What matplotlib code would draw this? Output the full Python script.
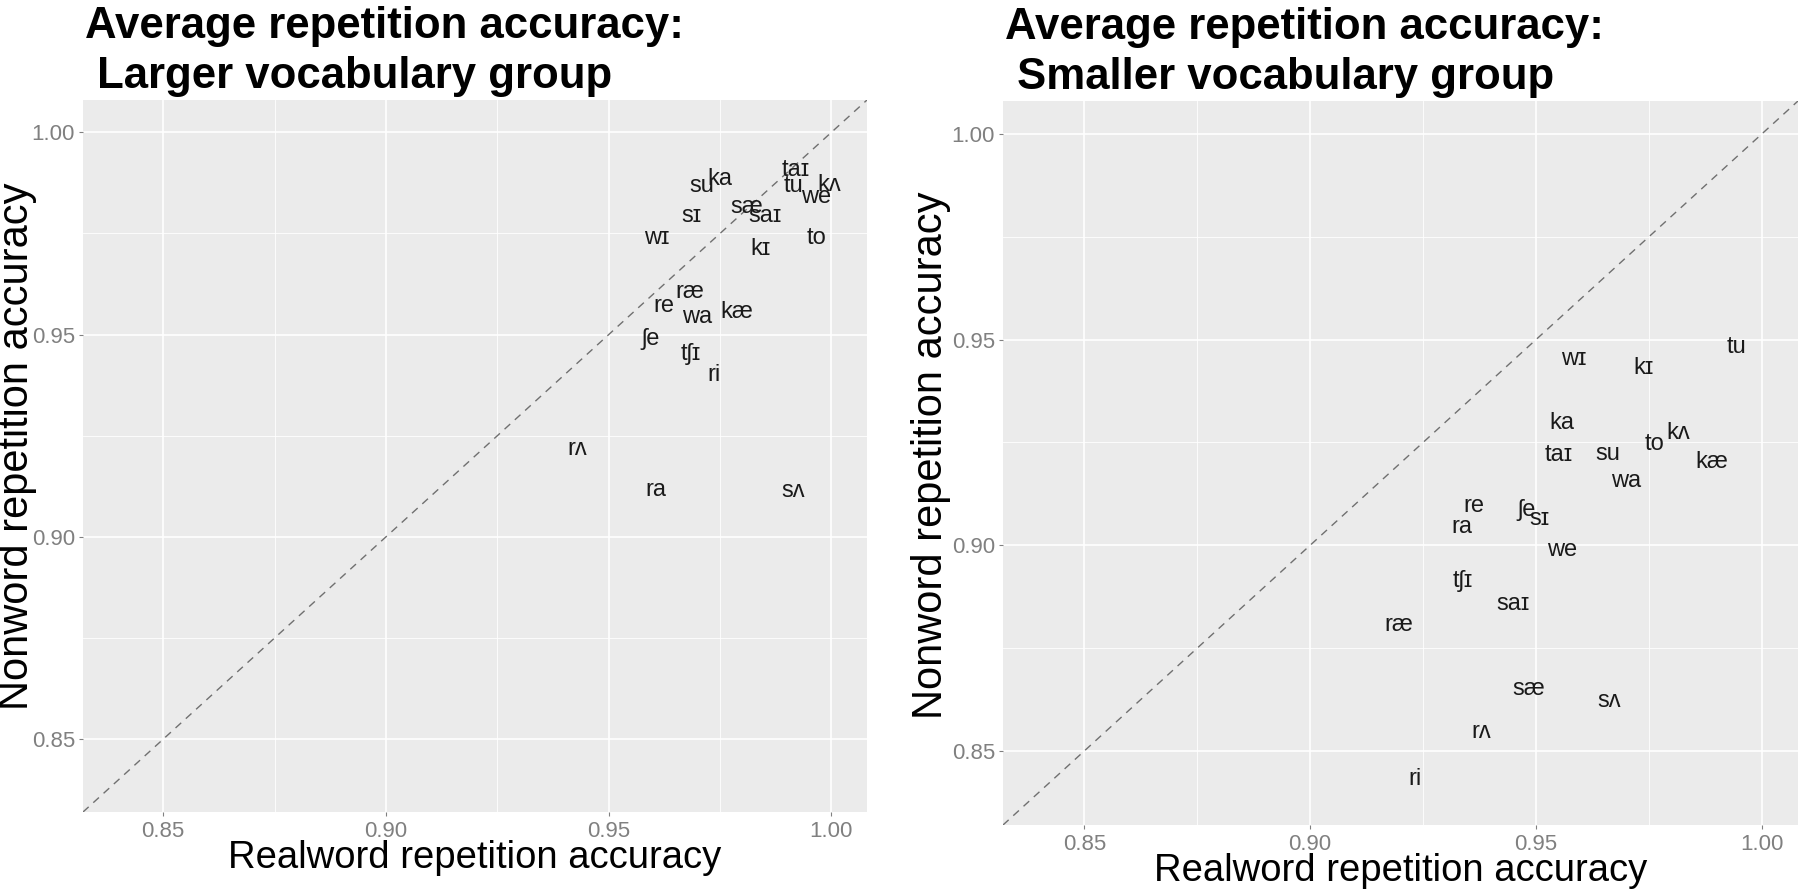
import matplotlib
matplotlib.use("Agg")
import matplotlib.pyplot as plt
from matplotlib.ticker import FixedLocator, FormatStrFormatter

# ---------------- data ----------------
syllables = ['taɪ', 'tu', 'kʌ', 'we', 'su', 'ka', 'sæ', 'saɪ', 'sɪ', 'wɪ', 'kɪ',
             'to', 'ræ', 're', 'wa', 'kæ', 'ʃe', 'tʃɪ', 'ri', 'rʌ', 'ra', 'sʌ']

# Larger vocabulary group
real_large = [0.9920, 0.9916, 0.9995, 0.9966, 0.9709, 0.9750, 0.9810, 0.9851, 0.9685, 0.9608, 0.9840,
              0.9966, 0.9683, 0.9625, 0.9698, 0.9787, 0.9595, 0.9685, 0.9737, 0.9429, 0.9607, 0.9914]
nonword_large = [0.9907, 0.9868, 0.9870, 0.9841, 0.9868, 0.9884, 0.9815, 0.9793, 0.9794, 0.9738, 0.9711,
                 0.9738, 0.9606, 0.9571, 0.9544, 0.9555, 0.9490, 0.9453, 0.9399, 0.9217, 0.9117, 0.9114]

# Smaller vocabulary group
real_small = [0.9551, 0.9943, 0.9815, 0.9557, 0.9660, 0.9557, 0.9483, 0.9449, 0.9507, 0.9583, 0.9739,
              0.9763, 0.9197, 0.9362, 0.9699, 0.9890, 0.9478, 0.9337, 0.9232, 0.9379, 0.9336, 0.9661]
nonword_small = [0.9220, 0.9481, 0.9274, 0.8988, 0.9221, 0.9297, 0.8651, 0.8858, 0.9065, 0.9453, 0.9430,
                 0.9246, 0.8806, 0.9095, 0.9156, 0.9203, 0.9085, 0.8913, 0.8433, 0.8547, 0.9044, 0.8622]

major_ticks = [0.85, 0.90, 0.95, 1.00]
minor_ticks = [0.875, 0.925, 0.975]
axis_limits = (0.832, 1.008)

titles = ["Average repetition accuracy:", " Larger vocabulary group",
          "Average repetition accuracy:", " Smaller vocabulary group"]
xlabel = "Realword repetition accuracy"
ylabel = "Nonword repetition accuracy"

# ---------------- style ----------------
FONT = ['Liberation Sans', 'DejaVu Sans']
plt.rcParams['font.family'] = FONT
PANEL_BG = '#EBEBEB'
TICK_COL = '#808080'

W, H = 1800, 896
fig = plt.figure(figsize=(W / 100, H / 100), dpi=100)

ax1 = fig.add_axes([83 / W, (H - 812) / H, 784 / W, 712 / H])
ax2 = fig.add_axes([1003 / W, (H - 825) / H, 795 / W, 724 / H])


def style_axes(ax, xr, yr, t1, t2, ylab_x, ylab_y, xlab_y):
    ax.set_facecolor(PANEL_BG)
    for s in ax.spines.values():
        s.set_visible(False)
    ax.set_xlim(*axis_limits)
    ax.set_ylim(*axis_limits)
    for axis in (ax.xaxis, ax.yaxis):
        axis.set_major_locator(FixedLocator(major_ticks))
        axis.set_minor_locator(FixedLocator(minor_ticks))
        axis.set_major_formatter(FormatStrFormatter('%.2f'))
    ax.grid(which='major', color='white', linewidth=1.2, zorder=0)
    ax.grid(which='minor', color='white', linewidth=0.6, zorder=0)
    ax.set_axisbelow(True)
    ax.tick_params(which='major', length=3.2, width=0.8, color=TICK_COL,
                   labelcolor=TICK_COL, labelsize=16)
    ax.tick_params(axis='x', which='major', pad=3.5)
    ax.tick_params(axis='y', which='major', pad=2.5)
    ax.tick_params(which='minor', length=0)

    ax.axline((0.9, 0.9), slope=1, color='#707070', linewidth=1.0,
              linestyle=(0, (5.5, 4.5)), zorder=1)

    for lab, x, y in zip(syllables, xr, yr):
        ax.text(x, y, lab, fontsize=17, color='#1a1a1a', ha='center', va='center',
                family=FONT, zorder=3)

    ax.annotate(t1, xy=(0, 1), xycoords='axes fraction', xytext=(1.5, 44.6),
                textcoords='offset points', ha='left', va='baseline',
                fontsize=31.5, fontweight='bold', color='black', annotation_clip=False)
    ax.annotate(t2, xy=(0, 1), xycoords='axes fraction', xytext=(1.5, 8.6),
                textcoords='offset points', ha='left', va='baseline',
                fontsize=31.5, fontweight='bold', color='black', annotation_clip=False)

    ax.set_xlabel(xlabel, fontsize=27.5, color='black')
    ax.xaxis.set_label_coords(0.5, xlab_y)
    ax.xaxis.label.set_va('baseline')
    ax.set_ylabel(ylabel, fontsize=30, color='black')
    ax.yaxis.set_label_coords(ylab_x, ylab_y)


style_axes(ax1, real_large, nonword_large, titles[0], titles[1],
           (37 - 83) / 784, 0.5 + 10 / 712, (812 - 868) / 712)
style_axes(ax2, real_small, nonword_small, titles[2], titles[3],
           (951 - 1003) / 795, 0.5 + 8 / 724, (825 - 881) / 724)

fig.savefig('out.png', dpi=100, facecolor='white')
